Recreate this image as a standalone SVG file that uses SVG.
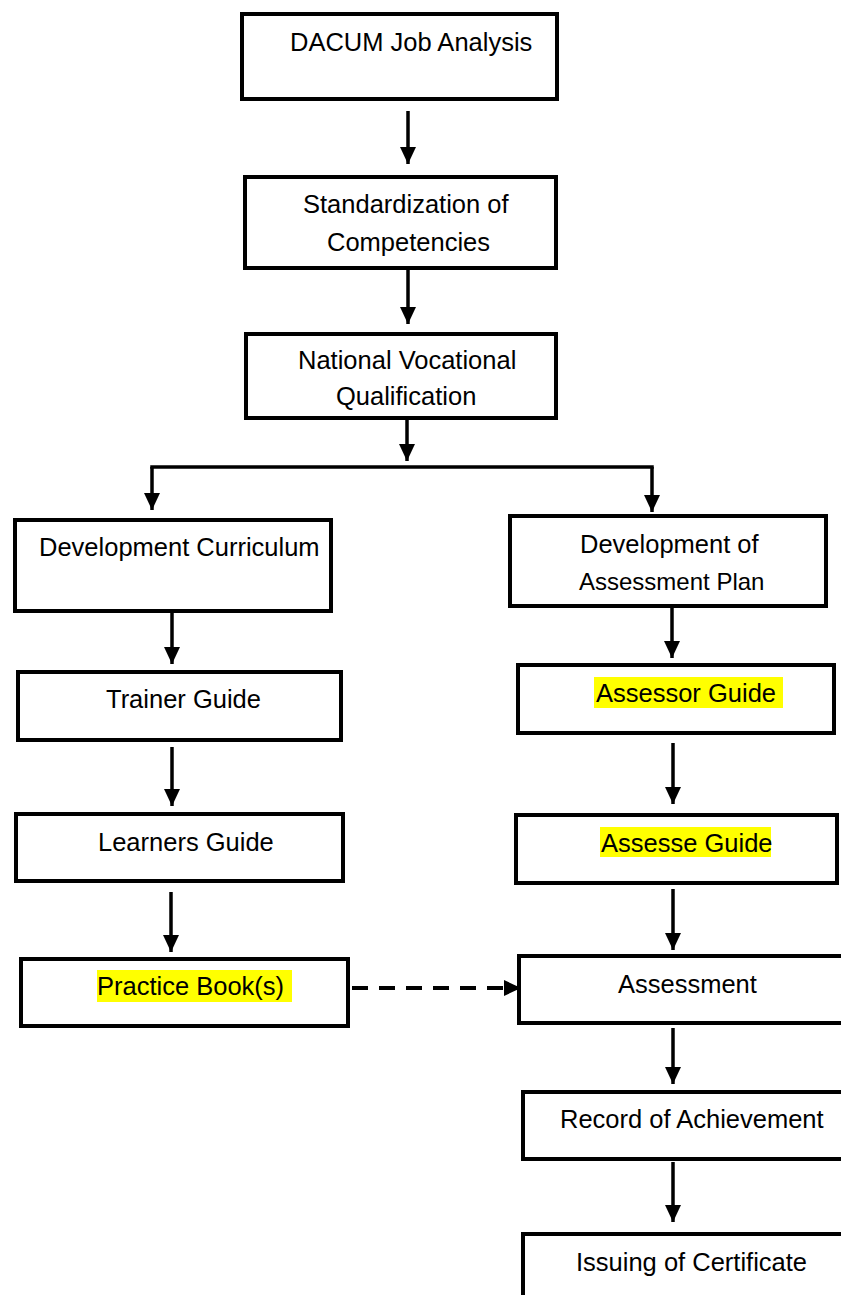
<svg xmlns="http://www.w3.org/2000/svg" width="841" height="1295" viewBox="0 0 841 1295">
<style>
.box{fill:#fff;stroke:#000;stroke-width:4}
.t{font-family:"Liberation Sans",Arial,sans-serif;font-size:25.5px;fill:#000}
.hl{fill:#ffff00}
.c{stroke:#000;stroke-width:3.5;fill:none}
.d{stroke:#000;stroke-width:4;fill:none;stroke-dasharray:16 11}
</style>
<defs>
<marker id="ah" markerUnits="userSpaceOnUse" markerWidth="17" markerHeight="16" refX="17" refY="8" orient="auto" viewBox="0 0 17 16">
<path d="M0,0 L17,8 L0,16 z" fill="#000"/>
</marker>
</defs>
<rect width="841" height="1295" fill="#fff"/>
<g id="n1"><rect class="box" x="242" y="14" width="315" height="85"/><text class="t" x="290" y="51">DACUM Job Analysis</text></g>
<g id="n2"><rect class="box" x="245" y="177" width="311" height="91"/><text class="t" x="303" y="213">Standardization of</text><text class="t" x="327" y="251">Competencies</text></g>
<g id="n3"><rect class="box" x="246" y="334" width="310" height="84"/><text class="t" x="298" y="369">National Vocational</text><text class="t" x="336" y="405">Qualification</text></g>
<g id="n4"><rect class="box" x="15" y="520" width="316" height="91"/><text class="t" x="39" y="556">Development Curriculum</text></g>
<g id="n5"><rect class="box" x="510" y="516" width="316" height="90"/><text class="t" x="580" y="553">Development of</text><text class="t" x="579" y="590" style="font-size:24px">Assessment Plan</text></g>
<g id="n6"><rect class="box" x="18" y="672" width="323" height="68"/><text class="t" x="106" y="708">Trainer Guide</text></g>
<g id="n7"><rect class="box" x="16" y="814" width="327" height="67"/><text class="t" x="98" y="851">Learners Guide</text></g>
<g id="n8"><rect class="box" x="21" y="959" width="327" height="67"/><rect class="hl" x="97" y="970" width="195" height="32"/><text class="t" x="97" y="995">Practice Book(s)</text></g>
<g id="n9"><rect class="box" x="518" y="665" width="316" height="68"/><rect class="hl" x="594" y="677" width="189" height="31"/><text class="t" x="596" y="702">Assessor Guide</text></g>
<g id="n10"><rect class="box" x="516" y="815" width="321" height="68"/><rect class="hl" x="600" y="827" width="171" height="30"/><text class="t" x="601" y="852">Assesse Guide</text></g>
<g id="n11"><rect class="box" x="519" y="956" width="340" height="67"/><text class="t" x="618" y="993">Assessment</text></g>
<g id="n12"><rect class="box" x="523" y="1092" width="340" height="67"/><text class="t" x="560" y="1128">Record of Achievement</text></g>
<g id="n13"><rect class="box" x="523" y="1234" width="340" height="100"/><text class="t" x="576" y="1271">Issuing of Certificate</text></g>
<g id="connectors">
<line class="c" x1="408" y1="111" x2="408" y2="164" marker-end="url(#ah)"/>
<line class="c" x1="408" y1="266" x2="408" y2="324" marker-end="url(#ah)"/>
<line class="c" x1="407" y1="418" x2="407" y2="461" marker-end="url(#ah)"/>
<line class="c" x1="150.25" y1="467" x2="653.75" y2="467"/>
<line class="c" x1="152" y1="467" x2="152" y2="510" marker-end="url(#ah)"/>
<line class="c" x1="652" y1="467" x2="652" y2="512" marker-end="url(#ah)"/>
<line class="c" x1="172" y1="612" x2="172" y2="664" marker-end="url(#ah)"/>
<line class="c" x1="172" y1="747" x2="172" y2="806" marker-end="url(#ah)"/>
<line class="c" x1="171" y1="892" x2="171" y2="952" marker-end="url(#ah)"/>
<line class="c" x1="672" y1="606" x2="672" y2="658" marker-end="url(#ah)"/>
<line class="c" x1="673" y1="743" x2="673" y2="804" marker-end="url(#ah)"/>
<line class="c" x1="673" y1="889" x2="673" y2="950" marker-end="url(#ah)"/>
<line class="c" x1="673" y1="1028" x2="673" y2="1084" marker-end="url(#ah)"/>
<line class="c" x1="673" y1="1162" x2="673" y2="1222" marker-end="url(#ah)"/>
<line class="d" x1="352" y1="988" x2="521" y2="988" marker-end="url(#ah)"/>
</g>
</svg>
